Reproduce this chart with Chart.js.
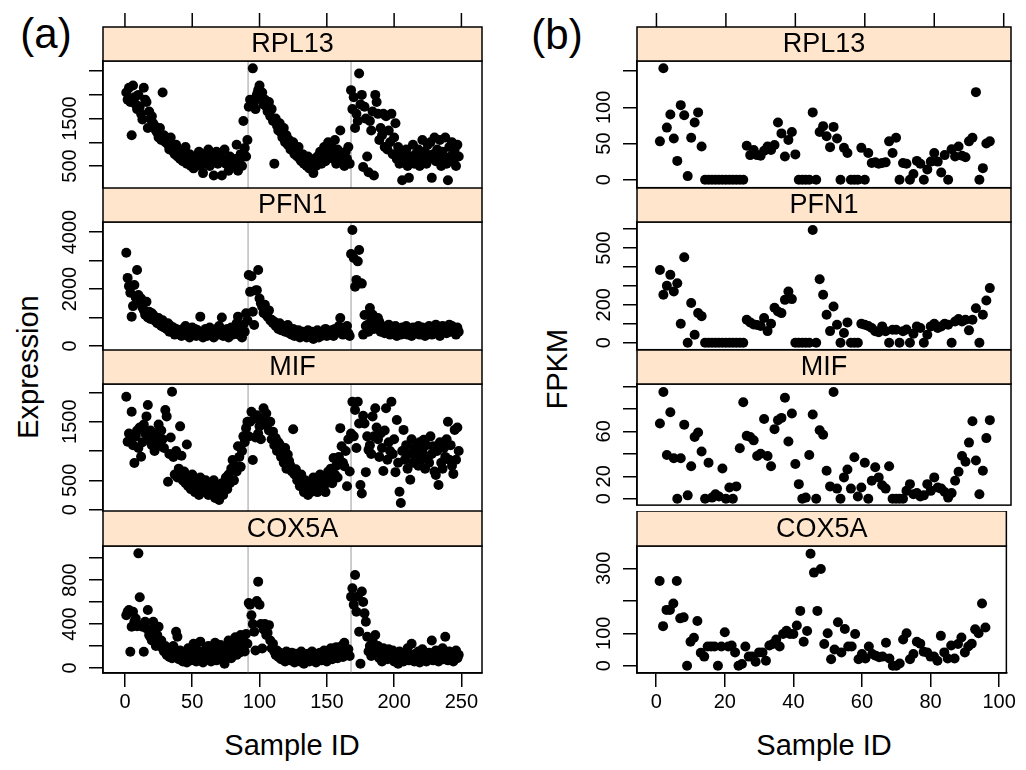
<!DOCTYPE html>
<html>
<head>
<meta charset="utf-8">
<script src="https://cdn.jsdelivr.net/npm/chart.js@4.4.1/dist/chart.umd.min.js"></script>
<style>
  body { margin: 0; background: #fff; }
  #wrap { position: relative; width: 1026px; height: 770px; overflow: hidden; font-family: "Liberation Sans", Arial, sans-serif; }
  canvas { position: absolute; }
  .lbl { position: absolute; white-space: nowrap; color: #000; transform: translate(-50%, -50%); }
  .rot { transform: translate(-50%, -50%) rotate(-90deg); }
</style>
</head>
<body>
<div id="wrap">
  <div class="lbl" style="left:46px; top:34px; font-size:42px;">(a)</div>
  <div class="lbl" style="left:557px; top:35px; font-size:42px;">(b)</div>
  <div class="lbl rot" style="left:28px; top:367px; font-size:29px;">Expression</div>
  <div class="lbl rot" style="left:557px; top:369px; font-size:29px;">FPKM</div>
  <div class="lbl" style="left:292px; top:745px; font-size:29px;">Sample ID</div>
  <div class="lbl" style="left:824px; top:745px; font-size:29px;">Sample ID</div>
</div>
<script>
var genes = ["RPL13", "PFN1", "MIF", "COX5A"];

// (a) expression, samples 1..248
var rpl13Expr = [
  2050, 1900, 2150, 1850, 1150, 2200, 1950, 1800, 1700, 2000,
  1750, 1600, 1480, 2150, 1900, 1850, 1300, 1650, 1500, 1550,
  1400, 1350, 1250, 1200, 1100, 1300, 1050, 2050, 1150, 1000,
  1050, 950, 850, 1100, 900, 800, 750, 950, 700, 850,
  650, 800, 600, 700, 900, 550, 650, 750, 500, 600,
  450, 700, 550, 600, 800, 500, 650, 350, 750, 550,
  600, 850, 500, 650, 700, 300, 600, 800, 550, 650,
  700, 300, 600, 850, 550, 650, 400, 700, 600, 500,
  550, 650, 950, 400, 600, 750, 500, 1450, 880, 700, 1050,
  1750, 1900, 1800, 2560, 1850, 1700, 2000, 2100, 2200, 1950,
  2050, 1800, 1900, 1750, 1650, 1850, 1550, 1700, 1450, 550,
  1500, 1350, 1250, 1400, 1200, 1100, 1300, 1000, 1150, 950,
  1050, 850, 900, 1000, 750, 800, 700, 900, 650, 600,
  750, 550, 650, 500, 700, 450, 600, 550, 350, 650,
  500, 700, 600, 800, 550, 750, 900, 600, 850, 1000,
  700, 950, 800, 650, 1050, 550, 850, 700, 1250, 600,
  750, 500, 800, 650, 900, 550,
  2100, 1700, 1950, 1300, 1600, 1450, 2450, 1800, 2000, 480,
  1750, 1500, 700, 370, 1450, 1250, 1650, 300, 2000, 1850,
  1600, 1050, 1300, 1150, 1600, 900, 1550, 850, 1250, 1000,
  1600, 750, 1100, 1400, 650, 900, 550, 800, 200, 700,
  600, 850, 500, 250, 700, 650, 950, 550, 750, 600,
  850, 500, 700, 1050, 600, 800, 550, 950, 650, 1000,
  250, 750, 1100, 600, 850, 700, 1050, 500, 800, 650,
  1100, 550, 200, 900, 700, 1000, 600, 850, 500, 950, 700
];
var pfn1Expr = [
  3270, 2390, 2100, 1870, 1030, 1400, 2140, 1700, 2670, 1790,
  1500, 1670, 1350, 1260, 1100, 1550, 1000, 1200, 950, 1150,
  1090, 900, 1000, 800, 980, 850, 700, 900, 650, 750,
  600, 800, 500, 700, 550, 650, 400, 600, 450, 550,
  500, 350, 600, 450, 700, 400, 550, 300, 500, 650,
  450, 600, 350, 550, 400, 1030, 500, 300, 450, 600,
  350, 500, 650, 400, 550, 300, 450, 600, 400, 700,
  500, 1000, 350, 550, 450, 600, 300, 500, 650, 400,
  550, 450, 800, 1030, 400, 600, 300, 750, 500, 1150, 900,
  2490, 1900, 2450, 1200, 740, 1950, 1960, 2670, 1670, 1500,
  1380, 1160, 1450, 1100, 1030, 1250, 900, 920, 800, 850,
  700, 750, 600, 800, 550, 650, 700, 500, 600, 740,
  450, 550, 400, 600, 350, 500, 450, 550, 300, 400,
  500, 350, 450, 300, 550, 400, 350, 500, 250, 450,
  400, 550, 300, 450, 350, 500, 400, 600, 350, 450,
  500, 400, 550, 350, 600, 450, 500, 700, 980, 550,
  400, 600, 500, 700, 450, 350,
  3230, 4070, 3090, 2080, 2320, 2970, 3370, 2200, 2190, 400,
  1090, 700, 740, 500, 1330, 900, 1100, 600, 750, 650,
  980, 850, 500, 700, 600, 450, 650, 500, 750, 400,
  600, 550, 450, 700, 350, 600, 500, 400, 650, 550,
  450, 700, 400, 550, 600, 350, 650, 500, 450, 600,
  700, 400, 550, 650, 500, 350, 600, 450, 700, 550,
  400, 650, 500, 750, 450, 600, 350, 550, 700, 500,
  600, 450, 650, 750, 500, 700, 550, 600, 400, 650, 500
];
var mifExpr = [
  1926, 1160, 1300, 1190, 1670, 1100, 795, 1250, 1350, 1050,
  1400, 903, 1150, 1450, 1300, 1590, 1784, 1200, 1350, 1100,
  1250, 1000, 1300, 1150, 1450, 1090, 1350, 1200, 1050, 1700,
  1590, 477, 950, 1230, 2010, 900, 600, 1000, 550, 700,
  1420, 920, 500, 650, 450, 1110, 400, 550, 350, 600,
  450, 300, 500, 400, 250, 550, 350, 450, 300, 500,
  400, 250, 450, 350, 300, 500, 200, 400, 350, 165,
  300, 450, 250, 400, 550, 350, 600, 450, 700, 847,
  500, 750, 650, 1080, 900, 730, 1000, 1250, 1150, 1390, 1500,
  1250, 1500, 1670, 847, 1550, 1230, 1610, 1300, 1420, 1200,
  1550, 1727, 1450, 1640, 1470, 1350, 1500, 1200, 1330, 1100,
  1220, 1000, 1150, 1110, 900, 1000, 800, 1050, 700, 940,
  830, 750, 650, 1370, 600, 690, 500, 550, 400, 600,
  450, 300, 500, 350, 250, 450, 300, 400, 550, 350,
  500, 300, 450, 600, 400, 350, 550, 300, 450, 650,
  500, 700, 450, 880, 600, 750, 550, 900, 1390, 1080,
  800, 740, 1000, 400, 1200, 650,
  1300, 1840, 1250, 1700, 1050, 1840, 1470, 420, 275, 1600,
  1470, 640, 1250, 1020, 1100, 950, 1590, 1250, 1730, 1400,
  1200, 900, 1300, 1050, 660, 1350, 1730, 850, 1150, 1000,
  1840, 950, 1200, 640, 1530, 800, 307, 114, 1000, 1360,
  850, 1100, 700, 950, 510, 1200, 800, 1050, 900, 1020,
  750, 1150, 850, 1000, 1190, 700, 1100, 900, 800, 1250,
  950, 1080, 650, 590, 1000, 420, 1150, 800, 700, 1050,
  900, 1200, 1500, 850, 1100, 750, 610, 1360, 850, 1400, 1000
];
var cox5aExpr = [
  480, 512, 527, 148, 375, 512, 420, 450, 380, 1042,
  643, 390, 375, 148, 420, 360, 527, 300, 280, 250,
  420, 360, 200, 300, 375, 220, 250, 178, 150, 200,
  120, 180, 100, 150, 90, 200, 130, 330, 285, 80,
  160, 110, 60, 140, 90, 50, 180, 120, 70, 150,
  220, 100, 60, 160, 80, 240, 130, 50, 110, 170,
  90, 200, 140, 60, 180, 100, 230, 70, 150, 120,
  210, 80, 160, 40, 190, 110, 250, 130, 90, 200,
  170, 280, 120, 230, 140, 300, 190, 260, 150, 310, 220,
  590, 575, 480, 400, 330, 160, 610, 785, 575, 400,
  178, 350, 400, 300, 320, 390, 250, 180, 220, 150,
  120, 160, 100, 140, 80, 130, 110, 60, 150, 90,
  120, 70, 140, 100, 50, 130, 80, 110, 60, 150,
  90, 40, 120, 70, 130, 60, 100, 150, 80, 110,
  50, 130, 90, 140, 70, 120, 160, 100, 60, 140,
  110, 180, 80, 150, 120, 190, 90, 160, 130, 200,
  100, 230, 150, 120, 170, 110,
  648, 724, 575, 845, 512, 650, 330, 40, 695, 600,
  497, 420, 285, 150, 200, 110, 250, 170, 300, 120,
  200, 90, 150, 60, 180, 110, 140, 80, 170, 120,
  90, 160, 60, 130, 100, 40, 150, 80, 120, 60,
  140, 90, 180, 70, 120, 220, 100, 60, 130, 90,
  150, 50, 110, 170, 80, 130, 60, 100, 140, 90,
  250, 70, 120, 160, 90, 60, 130, 100, 180, 80,
  285, 120, 70, 150, 100, 130, 60, 110, 160, 90, 120
];

// (b) FPKM, samples 1..96
var rpl13Fpkm = [
  53, 154, 72, 90, 57, 26, 103, 89, 5, 58,
  79, 93, 46, 0, 0, 0, 0, 0, 0, 0,
  0, 0, 0, 0, 0, 47, 34, 41, 34, 33,
  40, 46, 41, 48, 79, 64, 32, 55, 66, 35,
  0, 0, 0, 0, 93, 0, 66, 74, 60, 45,
  73, 57, 0, 44, 37, 0, 0, 0, 44, 0,
  37, 23, 24, 22, 23, 24, 53, 37, 58, 0,
  23, 22, 0, 8, 26, 22, 0, 14, 25, 37,
  25, 10, 34, 0, 42, 32, 46, 33, 31, 53,
  58, 121, 0, 16, 50, 53
];
var pfn1Fpkm = [
  384, 253, 300, 358, 270, 314, 100, 451, 0, 209,
  42, 156, 140, 0, 0, 0, 0, 0, 0, 0,
  0, 0, 0, 0, 0, 121, 107, 96, 93, 88,
  130, 61, 100, 184, 165, 156, 226, 270, 230, 0,
  0, 0, 0, 0, 595, 0, 335, 253, 147, 61,
  191, 95, 0, 51, 107, 0, 0, 0, 100, 95,
  88, 77, 60, 55, 86, 60, 0, 68, 68, 0,
  60, 70, 0, 47, 86, 77, 0, 42, 86, 100,
  77, 86, 100, 95, 0, 112, 125, 112, 121, 65,
  121, 182, 0, 147, 223, 288
];
var mifFpkm = [
  67, 95, 39, 77, 36, 0, 36, 66, 3, 29,
  55, 59, 42, 0, 32, 1, 4, 2, 27, 0,
  10, 0, 11, 45, 86, 56, 55, 52, 38, 40,
  71, 38, 29, 62, 70, 72, 90, 51, 76, 31,
  13, 0, 1, 39, 75, 0, 61, 57, 25, 11,
  95, 9, 0, 19, 26, 9, 37, 2, 10, 32,
  0, 16, 28, 19, 12, 9, 29, 0, 0, 0,
  0, 7, 13, 4, 5, 2, 3, 13, 7, 19,
  10, 9, 6, 1, 5, 16, 24, 38, 33, 50,
  69, 34, 4, 25, 54, 70
];
var cox5aFpkm = [
  261, 122, 172, 172, 192, 261, 146, 149, 0, 74,
  86, 138, 40, 28, 59, 59, 59, 0, 59, 103,
  59, 62, 41, 0, 5, 59, 28, 28, 12, 41,
  41, 15, 62, 67, 81, 59, 98, 108, 98, 98,
  124, 169, 74, 107, 345, 287, 169, 298, 67, 100,
  20, 50, 134, 41, 113, 59, 59, 98, 20, 36,
  22, 59, 36, 31, 26, 28, 71, 22, 0, 0,
  7, 81, 100, 20, 36, 74, 68, 43, 41, 28,
  28, 15, 92, 41, 22, 62, 22, 67, 87, 41,
  59, 68, 112, 100, 192, 118
];

var exprTicksX = [0, 50, 100, 150, 200, 250];
var fpkmTicksX = [0, 20, 40, 60, 80, 100];
var batchBreaks = [91.5, 168];

var exprTicksY = [[500, 1000, 1500, 2000, 2500], [0, 1000, 2000, 3000, 4000], [0, 500, 1000, 1500, 2000], [0, 200, 400, 600, 800, 1000]];
var exprLabelsY = [[500, 1500], [0, 2000, 4000], [0, 500, 1500], [0, 400, 800]];
var exprRangeY = [[36, 2715], [-140, 4351], [-22, 2142], [-45, 1109]];

var fpkmTicksY = [[0, 50, 100, 150], [0, 100, 200, 300, 400, 500, 600], [0, 20, 40, 60, 80, 100], [0, 100, 200, 300]];
var fpkmLabelsY = [[0, 50, 100], [0, 200, 500], [0, 20, 60], [0, 100, 300]];
var fpkmRangeY = [[-11, 164], [-37, 637], [-5.7, 102.2], [-22.5, 369]];

// panel rows (page pixels)
var rows = [
  { stripTop: 27, plotTop: 61, plotBottom: 188 },
  { stripTop: 188, plotTop: 222, plotBottom: 350 },
  { stripTop: 350, plotTop: 384, plotBottom: 511 },
  { stripTop: 511, plotTop: 546, plotBottom: 673 }
];

var figures = [
  { left: 103, right: 482, xMin: -16.3, xMax: 265.3, xTicks: exprTicksX,
    series: [rpl13Expr, pfn1Expr, mifExpr, cox5aExpr],
    yTicks: exprTicksY, yLabels: exprLabelsY, yRange: exprRangeY, breaks: batchBreaks },
  { left: 637, right: 1011, xMin: -5.6, xMax: 102.1, xTicks: fpkmTicksX,
    series: [rpl13Fpkm, pfn1Fpkm, mifFpkm, cox5aFpkm],
    yTicks: fpkmTicksY, yLabels: fpkmLabelsY, yRange: fpkmRangeY, breaks: [] }
];

var fontFamily = "'Liberation Sans', Arial, Helvetica, sans-serif";
var tickFont = { family: fontFamily, size: 20 };
var yAxisW = 70, padRight = 8, topExtra = 16, bottomExtra = 14, xAxisH = 46, tickLen = 14;
var labelOffset = 33;

var measureCtx = document.createElement("canvas").getContext("2d");
measureCtx.font = "20px " + fontFamily;
function widest(labels) {
  var w = 0;
  labels.forEach(function (v) { w = Math.max(w, measureCtx.measureText(String(v)).width); });
  return w;
}

var panelFrame = {
  id: "panelFrame",
  afterDatasetsDraw: function (chart, args, opts) {
    var a = chart.chartArea, ctx = chart.ctx;
    ctx.save();
    ctx.lineWidth = 1.5;
    ctx.strokeStyle = "#000";
    ctx.strokeRect(a.left, a.top, a.right - a.left, a.bottom - a.top);
    var st = a.top - opts.stripH;
    ctx.fillStyle = "#ffe5cc";
    ctx.fillRect(a.left, st, a.right - a.left, opts.stripH);
    ctx.strokeRect(a.left, st, a.right - a.left, opts.stripH);
    ctx.fillStyle = "#000";
    ctx.font = "27px " + fontFamily;
    ctx.textAlign = "center";
    ctx.textBaseline = "middle";
    ctx.fillText(opts.label, (a.left + a.right) / 2, st + opts.stripH / 2 + 1);
    if (opts.topTicks) {
      var xs = chart.scales.x;
      opts.topTicks.forEach(function (v) {
        var px = xs.getPixelForValue(v);
        ctx.beginPath();
        ctx.moveTo(px, st);
        ctx.lineTo(px, st - tickLen);
        ctx.stroke();
      });
    }
    ctx.restore();
  }
};

var wrap = document.getElementById("wrap");

figures.forEach(function (fig) {
  rows.forEach(function (row, r) {
    var isTop = r === 0, isBottom = r === rows.length - 1;
    var stripH = row.plotTop - row.stripTop;
    var plotH = row.plotBottom - row.plotTop;
    var padTop = (isTop ? topExtra : 0) + stripH;
    var w = yAxisW + (fig.right - fig.left) + padRight;
    var h = padTop + plotH + (isBottom ? xAxisH : bottomExtra);
    var cv = document.createElement("canvas");
    cv.width = w; cv.height = h;
    cv.style.left = (fig.left - yAxisW) + "px";
    cv.style.top = (row.plotTop - padTop) + "px";
    cv.style.width = w + "px"; cv.style.height = h + "px";
    wrap.appendChild(cv);

    var yMin = fig.yRange[r][0], yMax = fig.yRange[r][1];
    var labels = fig.yLabels[r];
    var yPad = labelOffset - tickLen - widest(labels) / 2;

    var datasets = [{
      data: fig.series[r].map(function (v, i) { return { x: i + 1, y: v }; }),
      backgroundColor: "#000",
      borderColor: "#000",
      borderWidth: 0,
      pointRadius: 5,
      pointHoverRadius: 5,
      order: 0
    }];
    fig.breaks.forEach(function (b) {
      datasets.push({
        type: "line",
        data: [{ x: b, y: yMin }, { x: b, y: yMax }],
        borderColor: "#bdbdbd",
        borderWidth: 1.5,
        pointRadius: 0,
        showLine: true,
        order: 1
      });
    });

    new Chart(cv, {
      type: "scatter",
      data: { datasets: datasets },
      plugins: [panelFrame],
      options: {
        responsive: false,
        maintainAspectRatio: false,
        animation: false,
        devicePixelRatio: 1,
        events: [],
        layout: { padding: { top: padTop, right: padRight, bottom: isBottom ? 0 : bottomExtra, left: 0 } },
        plugins: {
          legend: { display: false },
          tooltip: { enabled: false },
          panelFrame: { label: genes[r], stripH: stripH, topTicks: isTop ? fig.xTicks : null }
        },
        scales: {
          x: {
            type: "linear",
            min: fig.xMin,
            max: fig.xMax,
            display: isBottom,
            afterBuildTicks: function (s) { s.ticks = fig.xTicks.map(function (v) { return { value: v }; }); },
            afterFit: function (s) { if (isBottom) s.height = xAxisH; },
            ticks: { font: tickFont, color: "#000", padding: 3, maxRotation: 0, autoSkip: false },
            grid: { drawOnChartArea: false, drawTicks: true, tickLength: tickLen, color: "#000", lineWidth: 1.5 },
            border: { display: true, color: "#000", width: 1.5 }
          },
          y: {
            type: "linear",
            position: "left",
            min: yMin,
            max: yMax,
            afterBuildTicks: function (s) { s.ticks = fig.yTicks[r].map(function (v) { return { value: v }; }); },
            afterFit: function (s) { s.width = yAxisW; },
            ticks: {
              font: tickFont, color: "#000", minRotation: 90, maxRotation: 90,
              crossAlign: "center", padding: yPad, autoSkip: false,
              callback: function (v) { return labels.indexOf(v) >= 0 ? String(v) : ""; }
            },
            grid: { drawOnChartArea: false, drawTicks: true, tickLength: tickLen, color: "#000", lineWidth: 1.5 },
            border: { display: true, color: "#000", width: 1.5 }
          }
        }
      }
    });
  });
});
</script>
</body>
</html>
